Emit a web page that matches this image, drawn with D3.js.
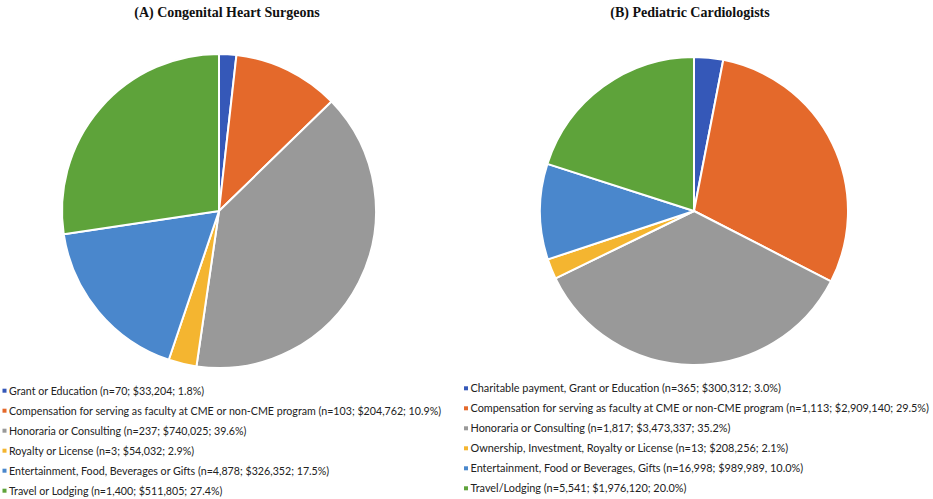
<!DOCTYPE html>
<html>
<head>
<meta charset="utf-8">
<script src="https://cdn.jsdelivr.net/npm/d3@7"></script>
<style>
html,body{margin:0;padding:0;background:#fff;}
svg{display:block;}
</style>
</head>
<body>
<svg id="chart" width="933" height="499"></svg>
<script>
// ---- data ----
const titleA = "(A) Congenital Heart Surgeons";
const titleB = "(B) Pediatric Cardiologists";
const labelsA = [
  "Grant or Education (n=70; $33,204; 1.8%)",
  "Compensation for serving as faculty at CME or non-CME program (n=103; $204,762; 10.9%)",
  "Honoraria or Consulting (n=237; $740,025; 39.6%)",
  "Royalty or License (n=3; $54,032; 2.9%)",
  "Entertainment, Food, Beverages or Gifts (n=4,878; $326,352; 17.5%)",
  "Travel or Lodging (n=1,400; $511,805; 27.4%)"
];
const valuesA = [33204, 204762, 740025, 54032, 326352, 511805];
const labelsB = [
  "Charitable payment, Grant or Education (n=365; $300,312; 3.0%)",
  "Compensation for serving as faculty at CME or non-CME program (n=1,113; $2,909,140; 29.5%)",
  "Honoraria or Consulting (n=1,817; $3,473,337; 35.2%)",
  "Ownership, Investment, Royalty or License (n=13; $208,256; 2.1%)",
  "Entertainment, Food or Beverages, Gifts (n=16,998; $989,989, 10.0%)",
  "Travel/Lodging (n=5,541; $1,976,120; 20.0%)"
];
const valuesB = [300312, 2909140, 3473337, 208256, 989989, 1976120];
const colors = ["#3558b8", "#e4692b", "#999999", "#f4b530", "#4a87cc", "#5ea33a"];

// ---- drawing ----
const svg = d3.select("#chart");
const color = d3.scaleOrdinal().domain(d3.range(6)).range(colors);
const pie = d3.pie().sort(null).value(d => d);

function drawPie(values, cx, cy, r) {
  const arc = d3.arc().innerRadius(0).outerRadius(r);
  const g = svg.append("g").attr("transform", `translate(${cx},${cy})`);
  g.selectAll("path").data(pie(values)).join("path")
    .attr("d", arc)
    .attr("fill", (d, i) => color(i))
    .attr("stroke", "#fff")
    .attr("stroke-width", 2)
    .attr("stroke-linejoin", "round");
}

function drawTitle(text, cx, y) {
  svg.append("text").attr("x", cx).attr("y", y)
    .attr("text-anchor", "middle")
    .attr("font-family", "Liberation Serif, Times New Roman, serif")
    .attr("font-weight", "bold").attr("font-size", 14)
    .attr("fill", "#111")
    .text(text);
}

function drawLegend(labels, x0, y0, step, targetWidth) {
  const g = svg.append("g");
  const rows = g.selectAll("g").data(labels).join("g")
    .attr("transform", (d, i) => `translate(${x0},${y0 + i * step})`);
  rows.append("rect").attr("x", 0).attr("y", -2).attr("width", 4).attr("height", 4)
    .attr("fill", (d, i) => color(i));
  const texts = rows.append("text").attr("x", 6.5).attr("y", 4)
    .attr("font-family", "Lato, Open Sans, sans-serif")
    .attr("font-size", 12).attr("fill", "#222")
    .text(d => d);
  // scale font so longest line matches target width
  let maxW = 0;
  texts.each(function () { maxW = Math.max(maxW, this.getComputedTextLength()); });
  const fs = 12 * targetWidth / maxW;
  texts.attr("font-size", fs);
}

drawTitle(titleA, 227, 17);
drawTitle(titleB, 690, 17);
drawPie(valuesA, 219, 211, 157);
drawPie(valuesB, 694, 211, 154);
drawLegend(labelsA, 2.5, 390.7, 20, 433);
drawLegend(labelsB, 464, 388.3, 20, 459);
</script>
</body>
</html>
